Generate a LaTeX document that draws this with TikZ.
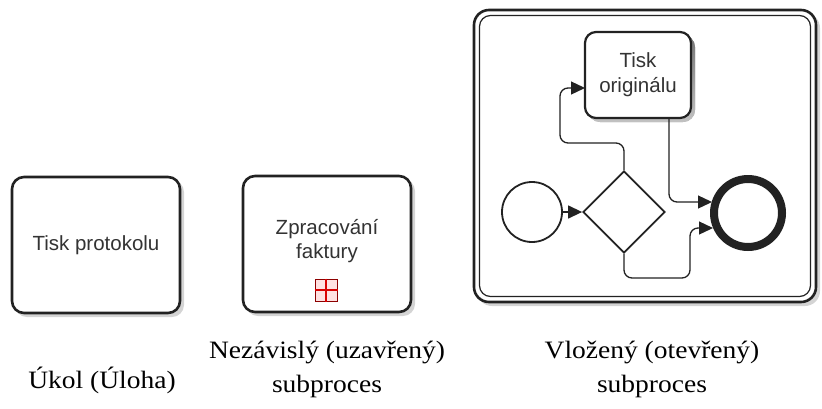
\documentclass[tikz,border=0pt]{standalone}
\usepackage{fontspec}
\setmainfont{Liberation Serif}[FakeStretch=1.1]
\newfontfamily\tasksans{Liberation Sans}
\usetikzlibrary{arrows.meta,shapes.geometric,calc}
\definecolor{ink}{HTML}{222222}
\definecolor{txt}{HTML}{333333}
\definecolor{shade}{HTML}{B8B8B8}
\tikzset{
  taskbox/.style={draw=ink, line width=2.6pt, rounded corners=12pt, fill=white,
    align=center, font=\tasksans\fontsize{20.5}{25}\selectfont, text=txt, inner sep=0pt},
  shadowbox/.style={fill=shade, rounded corners=12pt, draw=none, opacity=0.6},
  flow/.style={draw=ink, line width=1.3pt, rounded corners=8pt,
    -{Triangle[length=14pt,width=13pt]}},
  lbl/.style={font=\fontsize{25}{34}\selectfont, align=center, text=black},
}
\begin{document}
\begin{tikzpicture}[x=1pt,y=-1pt]
\useasboundingbox (0,0) rectangle (822,408);
% shadows
\fill[shadowbox] (15,180) rectangle (184,317);
\fill[shadowbox] (246,179) rectangle (415,316);
\fill[shadowbox, rounded corners=15pt] (477,13) rectangle (820,306);
% Task
\node[taskbox, minimum width=168pt, minimum height=136pt] (t1) at (96,245) {Tisk protokolu};
% Collapsed subprocess
\node[taskbox, minimum width=168pt, minimum height=136pt] (t2) at (327,244) {};
\node[font=\tasksans\fontsize{20.5}{24}\selectfont, text=txt, align=center] (t2txt) at (327,241) {Zpracování\\faktury};
\node[draw=red!55!black, fill=red!12, line width=1pt, minimum size=22pt, inner sep=0pt] (plus) at (326,290) {};
\draw[red!85!black, line width=1.6pt] (plus.north) -- (plus.south) (plus.west) -- (plus.east);
% Expanded subprocess
\node[draw=ink, line width=2.6pt, rounded corners=15pt, fill=white, minimum width=342pt, minimum height=292pt] (sp) at (645,156) {};
\node[draw=ink, line width=1.2pt, rounded corners=11pt, minimum width=331pt, minimum height=281pt] (spin) at (645,156) {};
\fill[shade, rounded corners=12pt, opacity=0.6] (588,35) rectangle (695,122);
\node[taskbox, minimum width=106pt, minimum height=86pt, line width=2.2pt, rounded corners=11pt] (to) at (638,75) {Tisk\\originálu};
\node[draw=ink, line width=1.8pt, circle, minimum size=60pt, inner sep=0pt, fill=white] (start) at (532,212) {};
\node[draw=ink, line width=1.8pt, diamond, minimum width=82pt, minimum height=82pt, inner sep=0pt, fill=white] (gw) at (624,212) {};
\node[draw=ink, line width=8pt, circle, minimum size=68pt, inner sep=0pt, fill=white] (end) at (748,213) {};
% connectors
\coordinate (a1) at (624,143);
\coordinate (a2) at (560,143);
\coordinate (a3) at (560,88);
\coordinate (a4) at (585,88);
\coordinate (b0) at (669,118);
\coordinate (b1) at (669,202);
\coordinate (b2) at (712,202);
\coordinate (c1) at (624,278);
\coordinate (c2) at (690,278);
\coordinate (c3) at (690,228);
\coordinate (c4) at (713,228);
\draw[flow] (start) -- (gw.west);
\draw[flow] (gw.north) -- (a1) -- (a2) -- (a3) -- (a4);
\draw[flow] (b0) -- (b1) -- (b2);
\draw[flow] (gw.south) -- (c1) -- (c2) -- (c3) -- (c4);
% labels
\node[lbl] (l1) at (102,380) {Úkol (Úloha)};
\node[lbl] (l2) at (327,369) {Nezávislý (uzavřený)\\subproces};
\node[lbl] (l3) at (652,369) {Vložený (otevřený)\\subproces};
\end{tikzpicture}
\end{document}
